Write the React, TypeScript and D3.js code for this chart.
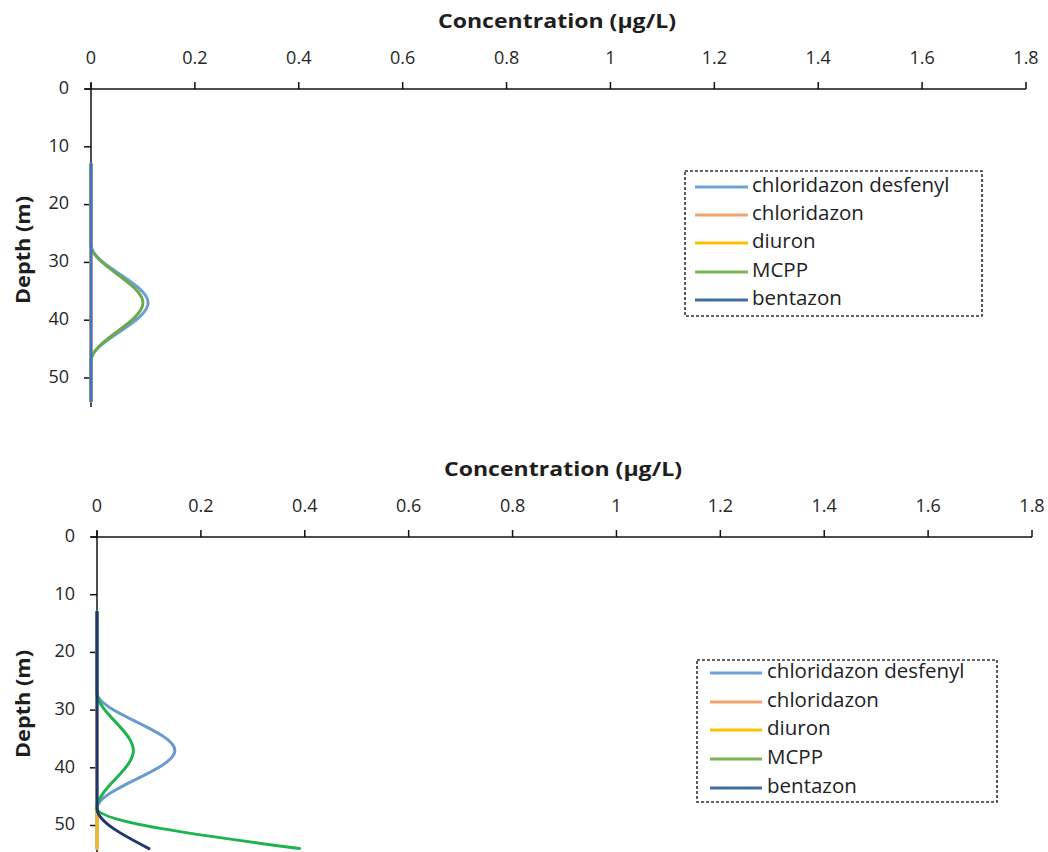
import * as d3 from 'd3';
import { useEffect, useRef } from 'react';

// sampled depths (m)
const depths = [13, 27, 37, 47, 54];
const xTicks = [0, 0.2, 0.4, 0.6, 0.8, 1, 1.2, 1.4, 1.6, 1.8];
const yTicks = [0, 10, 20, 30, 40, 50];
const seriesNames = ['chloridazon desfenyl', 'chloridazon', 'diuron', 'MCPP', 'bentazon'];

// upper profile
const topDesfenyl = [0, 0, 0.11, 0, 0];
const topChloridazon = [0, 0, 0, 0, 0];
const topDiuron = [0, 0, 0, 0, 0];
const topMcpp = [0, 0, 0.1, 0, 0];
const topBentazon = [0, 0, 0, 0, 0];

// lower profile
const botDesfenyl = [0, 0, 0.15, 0, 0];
const botChloridazon = [0, 0, 0, 0, 0];
const botDiuron = [0, 0, 0, 0, 0];
const botMcpp = [0, 0, 0.07, 0, 0.39];
const botBentazon = [0, 0, 0, 0, 0.1];

const legendColors = ['#6fa3d8', '#f2a36e', '#ffc000', '#77b753', '#3f6fa8'];
const topColors = ['#6a9fd6', '#f2a36e', '#ffc000', '#6aaa48', '#4472c4'];
const botColors = ['#6a9bcf', '#f2a36e', '#f0b429', '#1db34f', '#1f3670'];

const FONT = '"Open Sans", "Liberation Sans", sans-serif';

type PanelCfg = {
  ox: number; // pixel x of concentration 0
  ox1: number; // pixel x of 1.8
  oy: number; // pixel y of depth 0
  pxPer10: number;
  title: [number, number];
  ytitle: [number, number];
  legend: { x: number; y: number; w: number; h: number; lx: number; lx2: number; tx: number; rows: number[] };
  values: number[][];
  colors: string[];
};

function drawPanel(root: d3.Selection<SVGSVGElement, unknown, null, undefined>, cfg: PanelCfg) {
  const g = root.append('g');
  const x = d3.scaleLinear().domain([0, 1.8]).range([cfg.ox, cfg.ox1]);
  const y = d3.scaleLinear().domain([0, 10]).range([cfg.oy, cfg.oy + cfg.pxPer10]);
  const yMax = Math.min(y(55), 852);

  // axis titles
  g.append('text')
    .attr('x', cfg.title[0]).attr('y', cfg.title[1])
    .attr('text-anchor', 'middle').attr('dominant-baseline', 'middle')
    .attr('textLength', 238).attr('lengthAdjust', 'spacingAndGlyphs')
    .style('font-family', FONT).style('font-size', '20px').style('font-weight', 700)
    .attr('fill', '#1e1e1e')
    .text('Concentration (µg/L)');

  g.append('text')
    .attr('transform', `translate(${cfg.ytitle[0]},${cfg.ytitle[1]}) rotate(-90)`)
    .attr('text-anchor', 'middle').attr('dominant-baseline', 'middle')
    .attr('textLength', 108).attr('lengthAdjust', 'spacingAndGlyphs')
    .style('font-family', FONT).style('font-size', '20px').style('font-weight', 700)
    .attr('fill', '#1e1e1e')
    .text('Depth (m)');

  // x axis on top
  g.append('line')
    .attr('x1', cfg.ox - 6).attr('x2', x(1.8))
    .attr('y1', cfg.oy).attr('y2', cfg.oy)
    .attr('stroke', '#111').attr('stroke-width', 1.5);
  g.selectAll('.xt').data(xTicks).enter().append('line')
    .attr('x1', d => x(d)).attr('x2', d => x(d))
    .attr('y1', cfg.oy - 7).attr('y2', cfg.oy)
    .attr('stroke', '#111').attr('stroke-width', 1.5);
  g.selectAll('.xl').data(xTicks).enter().append('text')
    .attr('x', d => x(d)).attr('y', cfg.oy - 30)
    .attr('text-anchor', 'middle').attr('dominant-baseline', 'middle')
    .style('font-family', FONT).style('font-size', '18px')
    .attr('fill', '#262626')
    .text(d => String(d));

  // y axis
  g.append('line')
    .attr('x1', cfg.ox).attr('x2', cfg.ox)
    .attr('y1', cfg.oy - 6).attr('y2', yMax)
    .attr('stroke', '#111').attr('stroke-width', 1.5);
  g.selectAll('.yt').data(yTicks).enter().append('line')
    .attr('x1', cfg.ox - 7).attr('x2', cfg.ox)
    .attr('y1', d => y(d)).attr('y2', d => y(d))
    .attr('stroke', '#111').attr('stroke-width', 1.5);
  g.selectAll('.yl').data(yTicks).enter().append('text')
    .attr('x', cfg.ox - 22).attr('y', d => y(d))
    .attr('text-anchor', 'end').attr('dominant-baseline', 'middle')
    .style('font-family', FONT).style('font-size', '18px')
    .attr('fill', '#262626')
    .text(d => String(d));

  // profiles (smoothed, no overshoot past the axis)
  const line = d3.line<[number, number]>()
    .x(d => x(d[0]))
    .y(d => y(d[1]))
    .curve(d3.curveMonotoneY);

  cfg.values.forEach((vals, i) => {
    const pts = vals.map((v, k) => [v, depths[k]] as [number, number]);
    g.append('path')
      .attr('d', line(pts) as string)
      .attr('fill', 'none')
      .attr('stroke', cfg.colors[i])
      .attr('stroke-width', 3)
      .attr('stroke-linecap', 'round');
  });

  // legend
  const L = cfg.legend;
  g.append('rect')
    .attr('x', L.x).attr('y', L.y).attr('width', L.w).attr('height', L.h)
    .attr('fill', 'white').attr('stroke', '#333')
    .attr('stroke-width', 1.6).attr('stroke-dasharray', '3,2');
  seriesNames.forEach((name, i) => {
    g.append('line')
      .attr('x1', L.lx).attr('x2', L.lx2)
      .attr('y1', L.rows[i]).attr('y2', L.rows[i])
      .attr('stroke', legendColors[i]).attr('stroke-width', 3);
    g.append('text')
      .attr('x', L.tx).attr('y', L.rows[i])
      .attr('dominant-baseline', 'middle')
      .style('font-family', FONT).style('font-size', '20.5px')
      .attr('fill', '#222')
      .text(name);
  });
}

export default function App() {
  const ref = useRef<SVGSVGElement>(null);

  useEffect(() => {
    const svg = d3.select(ref.current as SVGSVGElement);
    svg.selectAll('*').remove();

    drawPanel(svg, {
      ox: 91, ox1: 1026, oy: 89, pxPer10: 57.8,
      title: [557, 23], ytitle: [25, 250],
      legend: { x: 685, y: 171, w: 297, h: 145, lx: 695, lx2: 748, tx: 752, rows: [187, 215, 243, 272, 300] },
      values: [topDesfenyl, topChloridazon, topDiuron, topMcpp, topBentazon],
      colors: topColors,
    });

    drawPanel(svg, {
      ox: 97, ox1: 1032, oy: 537, pxPer10: 57.7,
      title: [563, 471], ytitle: [25, 704],
      legend: { x: 697, y: 660, w: 300, h: 142, lx: 710, lx2: 762, tx: 767, rows: [673, 702, 730, 759, 788] },
      values: [botDesfenyl, botChloridazon, botDiuron, botMcpp, botBentazon],
      colors: botColors,
    });
  }, []);

  return (
    <div style={{ position: 'absolute', left: 0, top: 0 }}>
      <svg ref={ref} width={1048} height={852} style={{ display: 'block', background: 'white' }} />
    </div>
  );
}
